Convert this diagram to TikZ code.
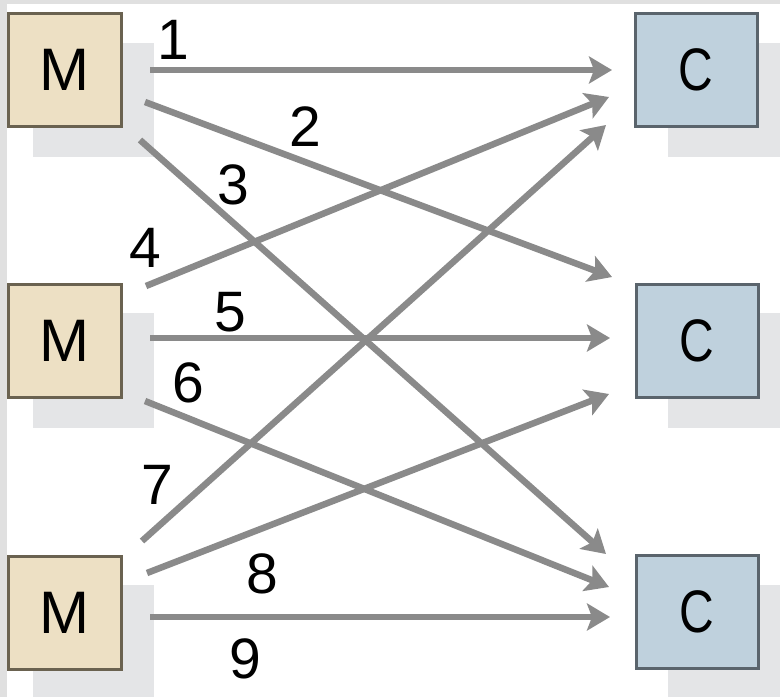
\documentclass[tikz,border=0pt]{standalone}
\usepackage{fontspec}
\usepackage{graphicx}
\setmainfont{Liberation Sans}
\usetikzlibrary{arrows.meta,positioning}

\definecolor{mfill}{HTML}{EDE0C4}
\definecolor{mline}{HTML}{6A6250}
\definecolor{cfill}{HTML}{BFD1DD}
\definecolor{cline}{HTML}{5A646C}
\definecolor{shade}{HTML}{E4E5E7}
\definecolor{wire}{HTML}{8A8A8A}
\definecolor{frame}{HTML}{E0E0E0}

\tikzset{
  mbox/.style={draw=mline, fill=mfill, line width=3pt, inner sep=0pt,
    minimum width=113pt, minimum height=113pt,
    font=\fontsize{60}{62}\selectfont},
  cbox/.style={draw=cline, fill=cfill, line width=3pt, inner sep=0pt,
    minimum width=122pt, minimum height=113pt,
    font=\fontsize{60}{62}\selectfont},
  shadowbox/.style={fill=shade, draw=none},
  link/.style={draw=wire, line width=6.5pt, -{Stealth[length=23pt,width=27pt,inset=5pt]}},
  num/.style={inner sep=0pt, font=\fontsize{57}{59}\selectfont}
}

\begin{document}
\begin{tikzpicture}[x=1pt,y=-1pt]
  \useasboundingbox (0,0) rectangle (780,697);
  \fill[white] (0,0) rectangle (780,697);
  % outer page edge
  \fill[frame] (0,0) rectangle (780,4);
  \fill[frame] (0,0) rectangle (7,697);

  % drop shadows
  \fill[shadowbox] (33,43) rectangle (154,157);
  \fill[shadowbox] (33,313) rectangle (154,428);
  \fill[shadowbox] (33,585) rectangle (154,697);
  \fill[shadowbox] (668,43) rectangle (780,157);
  \fill[shadowbox] (668,313) rectangle (780,428);
  \fill[shadowbox] (668,585) rectangle (780,697);

  % producers and consumers
  \node[mbox] (m1) at (64.5,70) {M};
  \node[mbox] (m2) at (64.5,341) {M};
  \node[mbox] (m3) at (64.5,612.5) {M};
  \node[cbox] (c1) at (696,70) {\scalebox{0.8}[1]{C}};
  \node[cbox] (c2) at (697,340.5) {\scalebox{0.8}[1]{C}};
  \node[cbox] (c3) at (697,612) {\scalebox{0.8}[1]{C}};

  % connector ends
  \coordinate (s1) at (150,70);
  \coordinate (s2) at (145,102);
  \coordinate (s3) at (140,140);
  \coordinate (s4) at (146,286);
  \coordinate (s5) at (150,338);
  \coordinate (s6) at (145,401);
  \coordinate (s7) at (142,541);
  \coordinate (s8) at (147,573);
  \coordinate (s9) at (150,617);
  \coordinate (e1) at (612,70);
  \coordinate (e2) at (612,277);
  \coordinate (e3) at (606,554);
  \coordinate (e4) at (609,97);
  \coordinate (e5) at (610,338);
  \coordinate (e6) at (609,587);
  \coordinate (e7) at (606,125);
  \coordinate (e8) at (609,394);
  \coordinate (e9) at (610,617);

  \draw[link] (s1) -- (e1);
  \draw[link] (s2) -- (e2);
  \draw[link] (s3) -- (e3);
  \draw[link] (s4) -- (e4);
  \draw[link] (s5) -- (e5);
  \draw[link] (s6) -- (e6);
  \draw[link] (s7) -- (e7);
  \draw[link] (s8) -- (e8);
  \draw[link] (s9) -- (e9);

  % link labels
  \node[num] (n1) at (173,40) {1};
  \node[num] (n2) at (305,127) {2};
  \node[num] (n3) at (233,185) {3};
  \node[num] (n4) at (145,248) {4};
  \node[num] (n5) at (230,312) {5};
  \node[num] (n6) at (188,383) {6};
  \node[num] (n7) at (157,485) {7};
  \node[num] (n8) at (262,574) {8};
  \node[num] (n9) at (245,659) {9};
\end{tikzpicture}
\end{document}
